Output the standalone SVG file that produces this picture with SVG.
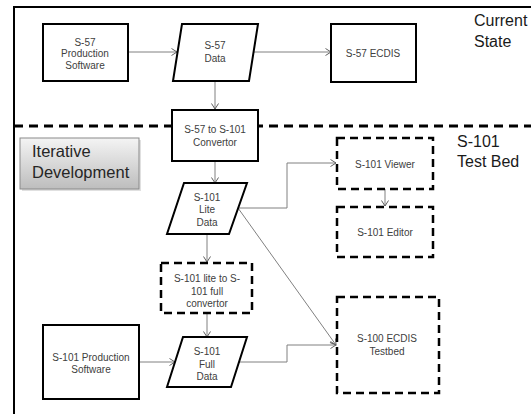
<svg xmlns="http://www.w3.org/2000/svg" width="531" height="414" viewBox="0 0 531 414">
<style>
.box{fill:#fff;stroke:#000;stroke-width:2}
.dbox{fill:#fff;stroke:#000;stroke-width:2.5;stroke-dasharray:8 5}
.t{font-family:"Liberation Sans",Arial,sans-serif;font-size:10px;fill:#404040;text-anchor:middle}
.big{font-family:"Liberation Sans",Arial,sans-serif;font-size:16px;fill:#1a1a1a}
.c{fill:none;stroke:#808080;stroke-width:1}
</style>
<defs>
<marker id="arr" markerUnits="userSpaceOnUse" markerWidth="8" markerHeight="9" refX="6" refY="4" orient="auto">
<path d="M0.5,0.5 L6,4 L0.5,7.5" fill="none" stroke="#606060" stroke-width="1"/>
</marker>
<linearGradient id="g" x1="0" y1="0" x2="0" y2="1">
<stop offset="0" stop-color="#f4f4f4"/>
<stop offset="1" stop-color="#bdbdbd"/>
</linearGradient>
</defs>
<rect width="531" height="414" fill="#fff"/>
<g id="frame">
<path d="M14,414 V7 H531" fill="none" stroke="#000" stroke-width="2"/>
<line x1="14" y1="126" x2="531" y2="126" stroke="#000" stroke-width="3" stroke-dasharray="9 6"/>
</g>
<g id="connectors">
<line class="c" x1="128" y1="52" x2="177" y2="52" marker-end="url(#arr)"/>
<line class="c" x1="254" y1="52" x2="331" y2="52" marker-end="url(#arr)"/>
<line class="c" x1="215" y1="81" x2="215" y2="109" marker-end="url(#arr)"/>
<line class="c" x1="215" y1="161" x2="215" y2="183" marker-end="url(#arr)"/>
<polyline class="c" points="238,208 287,208 287,163 336,163" marker-end="url(#arr)"/>
<line class="c" x1="238" y1="208" x2="336" y2="345" marker-end="url(#arr)"/>
<line class="c" x1="385" y1="189" x2="385" y2="206" marker-end="url(#arr)"/>
<line class="c" x1="207" y1="234" x2="207" y2="262" marker-end="url(#arr)"/>
<line class="c" x1="207" y1="313" x2="207" y2="337" marker-end="url(#arr)"/>
<line class="c" x1="139" y1="362" x2="175" y2="362" marker-end="url(#arr)"/>
<polyline class="c" points="239,362 287,362 287,345 336,345" marker-end="url(#arr)"/>
</g>
<g id="s57prod">
<rect class="box" x="43" y="24" width="85" height="57"/>
<text class="t" x="85" y="45.5">S-57</text>
<text class="t" x="85" y="57">Production</text>
<text class="t" x="85" y="68.5">Software</text>
</g>
<g id="s57data">
<polygon class="box" points="182,24 258,24 249,81 173,81"/>
<text class="t" x="215" y="48.5">S-57</text>
<text class="t" x="215" y="62">Data</text>
</g>
<g id="s57ecdis">
<rect class="box" x="331" y="24" width="85" height="58"/>
<text class="t" x="373" y="56.5">S-57 ECDIS</text>
</g>
<g id="currentstate">
<text class="big" x="474" y="26">Current</text>
<text class="big" x="474" y="47">State</text>
</g>
<g id="convertor">
<rect class="box" x="172" y="110" width="86" height="51"/>
<text class="t" x="215" y="132.5">S-57 to S-101</text>
<text class="t" x="215" y="145.5">Convertor</text>
</g>
<g id="iterative">
<rect x="22" y="140" width="119" height="51" fill="#000" opacity="0.12"/>
<rect x="20" y="138" width="119" height="51" fill="url(#g)" stroke="#8a8a8a" stroke-width="1"/>
<text class="big" x="32" y="157" style="font-size:16.5px;fill:#262626">Iterative</text>
<text class="big" x="32" y="178" style="font-size:16.5px;fill:#262626">Development</text>
</g>
<g id="testbed">
<text class="big" x="457" y="147">S-101</text>
<text class="big" x="457" y="167">Test Bed</text>
</g>
<g id="litedata">
<polygon class="box" points="184,183 247,183 229,234 167,234"/>
<text class="t" x="207" y="200.5">S-101</text>
<text class="t" x="207" y="212.5">Lite</text>
<text class="t" x="207" y="225.5">Data</text>
</g>
<g id="viewer">
<rect class="dbox" x="337" y="138" width="96" height="51"/>
<text class="t" x="385" y="167.5">S-101 Viewer</text>
</g>
<g id="editor">
<rect class="dbox" x="337" y="207" width="96" height="50"/>
<text class="t" x="385" y="235.5">S-101 Editor</text>
</g>
<g id="liteToFull">
<rect class="dbox" x="161" y="263" width="91" height="50"/>
<text class="t" x="207" y="281.5">S-101 lite to S-</text>
<text class="t" x="207" y="294.5">101 full</text>
<text class="t" x="207" y="306.5">convertor</text>
</g>
<g id="s101prod">
<rect class="box" x="43" y="325" width="96" height="74"/>
<text class="t" x="91" y="360.5">S-101 Production</text>
<text class="t" x="91" y="372.5">Software</text>
</g>
<g id="fulldata">
<polygon class="box" points="183,337 247,337 231,387 167,387"/>
<text class="t" x="207" y="354.5">S-101</text>
<text class="t" x="207" y="367.5">Full</text>
<text class="t" x="207" y="379.5">Data</text>
</g>
<g id="s100ecdis">
<rect class="dbox" x="337" y="297" width="102" height="96"/>
<text class="t" x="387" y="341.5">S-100 ECDIS</text>
<text class="t" x="387" y="354.5">Testbed</text>
</g>
</svg>
